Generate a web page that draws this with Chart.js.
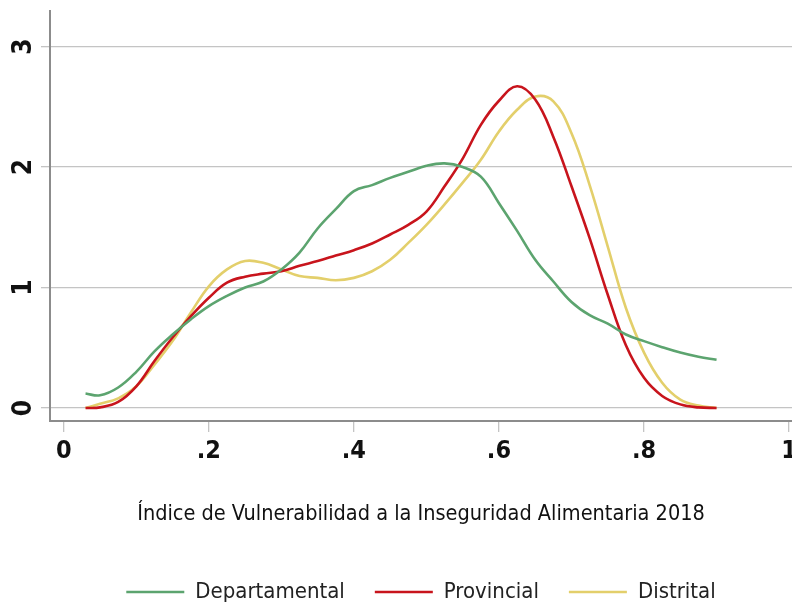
<!DOCTYPE html>
<html>
<head>
<meta charset="utf-8">
<script src="https://cdn.jsdelivr.net/npm/chart.js@4.4.1/dist/chart.umd.min.js"></script>
<style>
  html, body { margin: 0; padding: 0; background: #fff; overflow: hidden; }
  #wrap { width: 792px; height: 613px; }
</style>
</head>
<body>
<div id="wrap"><canvas id="chart"></canvas></div>
<script>
// density curves
const xPoints = [0.03, 0.05, 0.075, 0.1, 0.125, 0.15, 0.175, 0.2, 0.225, 0.25, 0.275, 0.3,
  0.325, 0.35, 0.375, 0.4, 0.425, 0.45, 0.475, 0.5, 0.525, 0.55, 0.575, 0.6,
  0.625, 0.65, 0.675, 0.7, 0.725, 0.75, 0.775, 0.8, 0.825, 0.85, 0.875, 0.9];

const departamental = [0.12, 0.105, 0.17, 0.30, 0.47, 0.61, 0.735, 0.845, 0.93, 1.0, 1.05, 1.15,
  1.29, 1.49, 1.65, 1.80, 1.85, 1.91, 1.96, 2.01, 2.03, 2.0, 1.92, 1.70,
  1.47, 1.23, 1.05, 0.88, 0.77, 0.70, 0.61, 0.555, 0.505, 0.46, 0.425, 0.40];

const provincial = [0.0, 0.005, 0.05, 0.18, 0.39, 0.585, 0.76, 0.915, 1.04, 1.09, 1.115, 1.135,
  1.18, 1.22, 1.265, 1.31, 1.365, 1.44, 1.52, 1.63, 1.84, 2.07, 2.35, 2.55,
  2.67, 2.56, 2.25, 1.84, 1.41, 0.94, 0.52, 0.25, 0.10, 0.03, 0.005, 0.0];

const distrital = [0.0, 0.035, 0.08, 0.18, 0.36, 0.555, 0.79, 1.01, 1.15, 1.22, 1.205, 1.15,
  1.095, 1.08, 1.06, 1.08, 1.135, 1.23, 1.37, 1.52, 1.69, 1.87, 2.06, 2.295,
  2.475, 2.585, 2.545, 2.28, 1.85, 1.34, 0.83, 0.46, 0.21, 0.07, 0.02, 0.0];

const seriesNames = ['Departamental', 'Provincial', 'Distrital'];
const xTickValues = [0, 0.2, 0.4, 0.6, 0.8, 1];
const xTickLabels = ['0', '.2', '.4', '.6', '.8', '1'];
const yTickValues = [0, 1, 2, 3];
const yTickLabels = ['0', '1', '2', '3'];
const xTitle = 'Índice de Vulnerabilidad a la Inseguridad Alimentaria 2018';

const fam = "'Liberation Sans Narrow', 'DejaVu Sans Condensed', Roboto, sans-serif";

function pts(arr) {
  return xPoints.map((x, i) => ({ x: x, y: arr[i] }));
}

function line(label, values, color) {
  return {
    label: label,
    data: pts(values),
    borderColor: color,
    backgroundColor: color,
    borderWidth: 2.6,
    pointRadius: 0,
    pointHoverRadius: 0,
    pointStyle: 'line',
    pointBorderWidth: 2.6,
    tension: 0.4,
    fill: false
  };
}

// y labels are rotated in the original, draw them at the scale's tick pixels
const yLabels = {
  id: 'yLabels',
  afterDraw(chart) {
    const s = chart.scales.y;
    const c = chart.ctx;
    c.save();
    c.font = 'bold 26px ' + fam;
    c.fillStyle = '#111';
    c.textAlign = 'center';
    c.textBaseline = 'middle';
    yTickValues.forEach((v, i) => {
      c.save();
      c.translate(24, s.getPixelForValue(v));
      c.rotate(-Math.PI / 2);
      c.fillText(yTickLabels[i], 0, 0);
      c.restore();
    });
    c.restore();
  }
};

new Chart(document.getElementById('chart'), {
  type: 'line',
  data: {
    datasets: [
      line(seriesNames[0], departamental, '#5ca46f'),
      line(seriesNames[1], provincial, '#c8141c'),
      line(seriesNames[2], distrital, '#e3cf6b')
    ]
  },
  options: {
    responsive: true,
    maintainAspectRatio: false,
    animation: false,
    devicePixelRatio: 1,
    layout: { padding: { top: 11, left: 0, right: 0, bottom: 0 } },
    plugins: {
      legend: {
        position: 'bottom',
        fullSize: false,
        labels: {
          usePointStyle: true,
          pointStyle: 'line',
          pointStyleWidth: 58,
          color: '#222',
          font: { family: fam, size: 22 },
          padding: 30
        }
      },
      tooltip: { enabled: false }
    },
    scales: {
      x: {
        type: 'linear',
        min: -0.019,
        max: 1.004,
        afterBuildTicks: s => { s.ticks = xTickValues.map(v => ({ value: v })); },
        afterFit: s => { s.height = 130; s.paddingLeft = 0; s.paddingRight = 0; },
        ticks: {
          callback: v => xTickLabels[xTickValues.indexOf(v)],
          color: '#111',
          font: { family: fam, size: 25, weight: 'bold' },
          padding: 4,
          maxRotation: 0
        },
        grid: { drawOnChartArea: false, drawTicks: true, tickLength: 11, color: '#c4c4c4', lineWidth: 1.3 },
        border: { display: true, color: '#8c8c8c', width: 2 },
        title: {
          display: true,
          text: xTitle,
          color: '#111',
          font: { family: fam, size: 21.5 },
          padding: { top: 34, bottom: 24 }
        }
      },
      y: {
        min: -0.108,
        max: 3.295,
        afterBuildTicks: s => { s.ticks = yTickValues.map(v => ({ value: v })); },
        afterFit: s => { s.width = 50; s.paddingTop = 0; s.paddingBottom = 0; },
        ticks: { display: false },
        grid: { color: '#c4c4c4', lineWidth: 1.3, tickLength: 9, drawTicks: true },
        border: { display: true, color: '#8c8c8c', width: 2 }
      }
    }
  },
  plugins: [yLabels]
});
</script>
</body>
</html>
